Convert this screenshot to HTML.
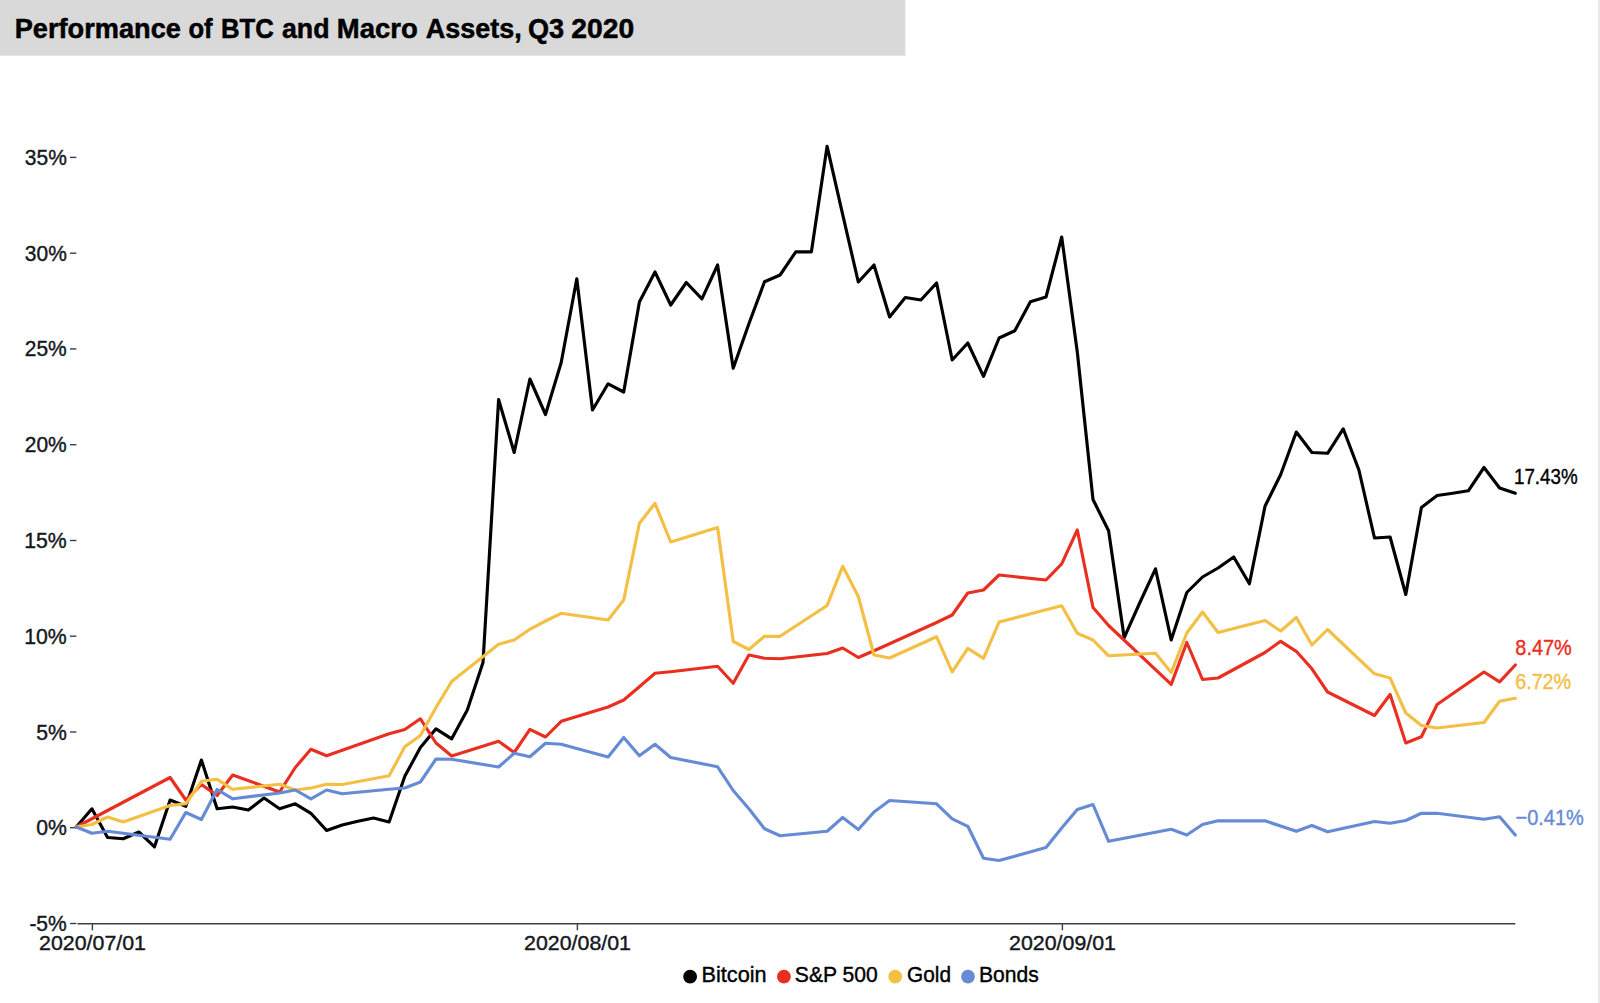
<!DOCTYPE html>
<html><head><meta charset="utf-8"><title>Performance of BTC and Macro Assets, Q3 2020</title>
<style>
html,body{margin:0;padding:0;background:#fff;}
body{width:1600px;height:1003px;overflow:hidden;position:relative;font-family:"Liberation Sans",Arial,sans-serif;}
svg{position:absolute;left:0;top:0;display:block;}
text{font-family:"Liberation Sans",Arial,sans-serif;font-size:21px;}
.ln{fill:none;stroke-linejoin:round;stroke-linecap:round;}
.tk line{stroke:#3c3f47;stroke-width:1.4;}
</style></head><body>
<svg width="1600" height="1003" viewBox="0 0 1600 1003">
<rect x="0" y="0" width="905.3" height="55.7" fill="#d9d9d9"/>
<rect x="1598" y="0" width="2" height="1003" fill="#e9e9ec"/>
<g class="tk"><line x1="70" x2="76.4" y1="157.4" y2="157.4"/><line x1="70" x2="76.4" y1="253.2" y2="253.2"/><line x1="70" x2="76.4" y1="348.9" y2="348.9"/><line x1="70" x2="76.4" y1="444.7" y2="444.7"/><line x1="70" x2="76.4" y1="540.5" y2="540.5"/><line x1="70" x2="76.4" y1="636.2" y2="636.2"/><line x1="70" x2="76.4" y1="732.0" y2="732.0"/><line x1="70" x2="76.4" y1="827.7" y2="827.7"/><line x1="70" x2="76.4" y1="923.5" y2="923.5"/><line x1="92.4" x2="92.4" y1="923.8" y2="930.3"/><line x1="577.4" x2="577.4" y1="923.8" y2="930.3"/><line x1="1062.4" x2="1062.4" y1="923.8" y2="930.3"/></g>
<line x1="77.5" x2="1515.3" y1="923.75" y2="923.75" stroke="#3c3f47" stroke-width="1.6"/>
<polyline class="ln" stroke="#000" stroke-width="3.15" points="76.3,827.0 91.9,808.8 107.6,837.5 123.2,838.8 138.9,832.0 154.5,846.8 170.1,800.0 185.8,806.3 201.4,760.0 217.1,808.8 232.7,807.0 248.4,810.0 264.0,798.0 279.6,808.8 295.3,803.8 310.9,813.3 326.6,830.5 342.2,825.0 357.8,821.3 373.5,818.0 389.1,822.0 404.8,776.3 420.4,747.5 436.0,728.8 451.7,738.8 467.3,710.0 483.0,662.5 498.6,399.5 514.2,452.5 529.9,379.0 545.5,414.5 561.2,362.5 576.8,278.8 592.5,410.0 608.1,383.8 623.7,392.0 639.4,302.0 655.0,272.0 670.7,305.0 686.3,282.5 701.9,298.8 717.6,265.0 733.2,368.3 748.9,323.8 764.5,281.8 780.1,275.0 795.8,251.8 811.4,251.8 827.1,146.3 842.7,214.7 858.3,282.0 874.0,265.0 889.6,317.0 905.3,297.5 920.9,300.0 936.6,283.0 952.2,360.0 967.8,343.0 983.5,376.3 999.1,338.0 1014.8,330.8 1030.4,301.8 1046.0,297.0 1061.7,237.0 1077.3,352.0 1093.0,499.5 1108.6,530.8 1124.2,637.7 1139.9,602.5 1155.5,568.8 1171.2,640.0 1186.8,592.5 1202.5,577.0 1218.1,568.0 1233.7,557.0 1249.4,583.8 1265.0,506.3 1280.7,474.5 1296.3,432.0 1311.9,452.5 1327.6,453.3 1343.2,428.8 1358.9,470.0 1374.5,538.0 1390.1,537.0 1405.8,594.5 1421.4,507.5 1437.1,495.5 1452.7,493.3 1468.3,490.8 1484.0,467.5 1499.6,488.0 1515.3,493.3"/>
<polyline class="ln" stroke="#e92f20" stroke-width="3.15" points="76.3,827.0 170.1,777.5 185.8,800.0 201.4,784.5 217.1,795.5 232.7,775.0 279.6,792.0 295.3,767.5 310.9,749.3 326.6,755.8 389.1,733.8 404.8,729.5 420.4,718.8 436.0,743.0 451.7,756.0 498.6,741.3 514.2,752.5 529.9,729.3 545.5,737.0 561.2,721.3 608.1,707.0 623.7,700.0 639.4,686.8 655.0,673.3 670.7,671.8 717.6,666.3 733.2,683.3 748.9,655.0 764.5,658.3 780.1,658.8 827.1,653.5 842.7,648.0 858.3,657.5 874.0,650.8 889.6,643.8 936.6,622.5 952.2,615.0 967.8,593.0 983.5,590.0 999.1,575.0 1046.0,580.0 1061.7,563.8 1077.3,530.0 1093.0,607.5 1108.6,625.5 1171.2,684.4 1186.8,642.5 1202.5,679.5 1218.1,678.0 1265.0,652.5 1280.7,641.3 1296.3,651.3 1311.9,668.8 1327.6,692.0 1374.5,715.5 1390.1,694.5 1405.8,743.0 1421.4,736.8 1437.1,704.5 1484.0,672.0 1499.6,681.8 1515.3,665.0"/>
<polyline class="ln" stroke="#f3bf44" stroke-width="3.15" points="76.3,827.0 91.9,824.5 107.6,817.0 123.2,822.0 170.1,805.5 185.8,803.8 201.4,781.3 217.1,779.3 232.7,789.3 279.6,784.3 295.3,790.0 310.9,788.0 326.6,784.3 342.2,784.5 389.1,775.8 404.8,746.8 420.4,735.5 436.0,707.5 451.7,681.5 498.6,644.3 514.2,640.0 529.9,629.3 545.5,621.0 561.2,613.3 608.1,620.0 623.7,600.0 639.4,523.3 655.0,503.3 670.7,542.0 717.6,527.5 733.2,641.3 748.9,649.5 764.5,636.3 780.1,636.3 827.1,605.5 842.7,566.3 858.3,596.5 874.0,655.0 889.6,658.0 936.6,636.8 952.2,671.8 967.8,648.3 983.5,658.3 999.1,622.0 1046.0,609.8 1061.7,605.8 1077.3,633.3 1093.0,640.0 1108.6,655.8 1155.5,653.3 1171.2,672.5 1186.8,633.0 1202.5,612.0 1218.1,632.5 1265.0,620.5 1280.7,631.0 1296.3,617.5 1311.9,645.0 1327.6,629.5 1374.5,673.8 1390.1,678.0 1405.8,713.0 1421.4,725.5 1437.1,728.0 1484.0,722.5 1499.6,701.3 1515.3,698.3"/>
<polyline class="ln" stroke="#668bd6" stroke-width="3.15" points="76.3,827.0 91.9,833.3 107.6,831.3 170.1,839.3 185.8,812.5 201.4,819.5 217.1,789.5 232.7,798.8 279.6,793.0 295.3,790.0 310.9,798.8 326.6,790.0 342.2,793.8 389.1,789.3 404.8,788.0 420.4,782.0 436.0,759.0 451.7,759.3 498.6,767.0 514.2,753.3 529.9,756.8 545.5,743.3 561.2,744.3 608.1,757.0 623.7,737.5 639.4,755.8 655.0,744.3 670.7,757.5 717.6,766.8 733.2,790.5 748.9,808.8 764.5,828.8 780.1,835.8 827.1,831.3 842.7,817.5 858.3,829.5 874.0,812.0 889.6,800.5 936.6,803.8 952.2,818.8 967.8,826.3 983.5,858.3 999.1,860.5 1046.0,847.5 1061.7,828.0 1077.3,809.5 1093.0,804.5 1108.6,841.3 1171.2,829.3 1186.8,835.0 1202.5,824.5 1218.1,820.8 1265.0,820.8 1296.3,831.3 1311.9,825.5 1327.6,831.8 1374.5,821.5 1390.1,823.3 1405.8,820.5 1421.4,813.3 1437.1,813.3 1484.0,819.3 1499.6,816.8 1515.3,835.0"/>
<circle cx="690.1" cy="976.7" r="6.9" fill="#000"/>
<circle cx="783.9" cy="976.7" r="6.9" fill="#e92f20"/>
<circle cx="895.2" cy="976.7" r="6.9" fill="#f3bf44"/>
<circle cx="968" cy="976.7" r="6.9" fill="#668bd6"/>
<text y="38.2" style="font-size:27px;font-weight:bold;fill:#000;stroke:#000;stroke-width:0.5px;"><tspan x="14.76" textLength="166.11" lengthAdjust="spacingAndGlyphs">Performance</tspan> <tspan x="188.39" textLength="24.12" lengthAdjust="spacingAndGlyphs">of</tspan> <tspan x="221.04" textLength="52.88" lengthAdjust="spacingAndGlyphs">BTC</tspan> <tspan x="282.00" textLength="47.53" lengthAdjust="spacingAndGlyphs">and</tspan> <tspan x="336.86" textLength="80.92" lengthAdjust="spacingAndGlyphs">Macro</tspan> <tspan x="425.86" textLength="95.94" lengthAdjust="spacingAndGlyphs">Assets,</tspan> <tspan x="527.88" textLength="36.14" lengthAdjust="spacingAndGlyphs">Q3</tspan> <tspan x="571.37" textLength="62.85" lengthAdjust="spacingAndGlyphs">2020</tspan></text>
<text x="24.85" y="164.9" textLength="41.93" lengthAdjust="spacingAndGlyphs" style="font-size:22px;fill:#15171c;stroke:#15171c;stroke-width:0.4px;">35%</text>
<text x="24.85" y="260.7" textLength="41.93" lengthAdjust="spacingAndGlyphs" style="font-size:22px;fill:#15171c;stroke:#15171c;stroke-width:0.4px;">30%</text>
<text x="24.78" y="356.4" textLength="41.96" lengthAdjust="spacingAndGlyphs" style="font-size:22px;fill:#15171c;stroke:#15171c;stroke-width:0.4px;">25%</text>
<text x="24.78" y="452.2" textLength="41.96" lengthAdjust="spacingAndGlyphs" style="font-size:22px;fill:#15171c;stroke:#15171c;stroke-width:0.4px;">20%</text>
<text x="24.24" y="548.0" textLength="42.52" lengthAdjust="spacingAndGlyphs" style="font-size:22px;fill:#15171c;stroke:#15171c;stroke-width:0.4px;">15%</text>
<text x="24.24" y="643.7" textLength="42.52" lengthAdjust="spacingAndGlyphs" style="font-size:22px;fill:#15171c;stroke:#15171c;stroke-width:0.4px;">10%</text>
<text x="36.18" y="739.5" textLength="30.63" lengthAdjust="spacingAndGlyphs" style="font-size:22px;fill:#15171c;stroke:#15171c;stroke-width:0.4px;">5%</text>
<text x="36.18" y="835.2" textLength="30.63" lengthAdjust="spacingAndGlyphs" style="font-size:22px;fill:#15171c;stroke:#15171c;stroke-width:0.4px;">0%</text>
<text x="29.39" y="931.0" textLength="37.37" lengthAdjust="spacingAndGlyphs" style="font-size:22px;fill:#15171c;stroke:#15171c;stroke-width:0.4px;">-5%</text>
<text x="39.08" y="949.6" textLength="106.89" lengthAdjust="spacingAndGlyphs" style="font-size:21px;fill:#15171c;stroke:#15171c;stroke-width:0.4px;">2020/07/01</text>
<text x="524.08" y="949.6" textLength="106.89" lengthAdjust="spacingAndGlyphs" style="font-size:21px;fill:#15171c;stroke:#15171c;stroke-width:0.4px;">2020/08/01</text>
<text x="1009.08" y="949.6" textLength="106.89" lengthAdjust="spacingAndGlyphs" style="font-size:21px;fill:#15171c;stroke:#15171c;stroke-width:0.4px;">2020/09/01</text>
<text x="1513.98" y="483.7" textLength="63.70" lengthAdjust="spacingAndGlyphs" style="font-size:22px;fill:#000;stroke:#000;stroke-width:0.4px;">17.43%</text>
<text x="1515.35" y="655.4" textLength="56.43" lengthAdjust="spacingAndGlyphs" style="font-size:22px;fill:#e92f20;stroke:#e92f20;stroke-width:0.4px;">8.47%</text>
<text x="1515.15" y="688.7" textLength="56.06" lengthAdjust="spacingAndGlyphs" style="font-size:22px;fill:#f3bf44;stroke:#f3bf44;stroke-width:0.4px;">6.72%</text>
<text x="1515.58" y="825.3" textLength="68.22" lengthAdjust="spacingAndGlyphs" style="font-size:22px;fill:#668bd6;stroke:#668bd6;stroke-width:0.4px;">−0.41%</text>
<text x="701.53" y="981.8" textLength="65.10" lengthAdjust="spacingAndGlyphs" style="font-size:22px;fill:#000;stroke:#000;stroke-width:0.4px;">Bitcoin</text>
<text x="794.82" y="981.8" textLength="82.99" lengthAdjust="spacingAndGlyphs" style="font-size:22px;fill:#000;stroke:#000;stroke-width:0.4px;">S&amp;P 500</text>
<text x="907.08" y="981.8" textLength="43.95" lengthAdjust="spacingAndGlyphs" style="font-size:22px;fill:#000;stroke:#000;stroke-width:0.4px;">Gold</text>
<text x="978.96" y="981.8" textLength="59.77" lengthAdjust="spacingAndGlyphs" style="font-size:22px;fill:#000;stroke:#000;stroke-width:0.4px;">Bonds</text>
</svg>
</body></html>
